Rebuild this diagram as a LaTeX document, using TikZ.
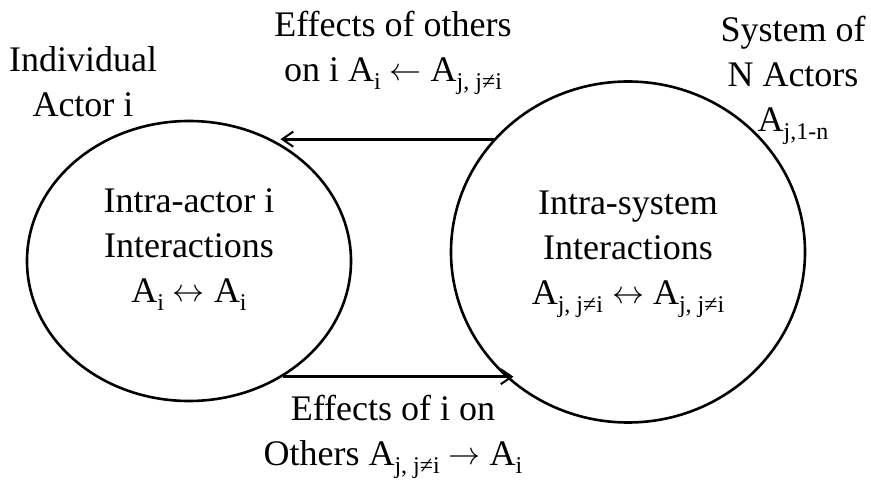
\documentclass[tikz,border=0pt]{standalone}
\usepackage{fontspec}
\setmainfont{Liberation Serif}
\usetikzlibrary{shapes.geometric,arrows.meta}
\newcommand\subx[1]{\raisebox{-8pt}{\fontsize{24pt}{24pt}\selectfont #1}}
\newcommand\arx[1]{\raisebox{1pt}{\resizebox{32pt}{!}{$#1$}}}
\begin{document}
\begin{tikzpicture}[x=1pt,y=-1pt,
  txt/.style={font=\fontsize{36pt}{45pt}\selectfont, align=center, inner sep=0pt, anchor=base},
  actor/.style={ellipse, draw, line width=2.6pt, inner sep=0pt},
  flow/.style={line width=3pt, -{Straight Barb[length=11pt,width=15pt,line width=2pt]}}]
\useasboundingbox (0,0) rectangle (871,481);
\node[actor, minimum width=324pt, minimum height=280pt] (L) at (189,261) {};
\node[actor, minimum width=354pt, minimum height=341pt] (R) at (628,252) {};
\node[txt] (Ltxt) at (189,303) {Intra-actor i\\Interactions\\A\subx{i} \arx{\leftrightarrow} A\subx{i}};
\node[txt] (Rtxt) at (628,305) {Intra-system\\Interactions\\A\subx{j, j≠i} \arx{\leftrightarrow} A\subx{j, j≠i}};
\node[txt] (ind) at (83,117) {Individual\\Actor i};
\node[txt] (sys) at (793,132) {System of\\N Actors\\A\subx{j,1-n}};
\node[txt] (top) at (393,82) {Effects of others\\on i A\subx{i} \arx{\leftarrow} A\subx{j, j≠i}};
\node[txt] (bot) at (393,465) {Effects of i on\\Others A\subx{j, j≠i} \arx{\rightarrow} A\subx{i}};
\draw[flow] (R.140.6) -- (R.140.6 -| L.52);
\draw[flow] (L.-51.5) -- (L.-51.5 -| R.229);
\end{tikzpicture}
\end{document}
